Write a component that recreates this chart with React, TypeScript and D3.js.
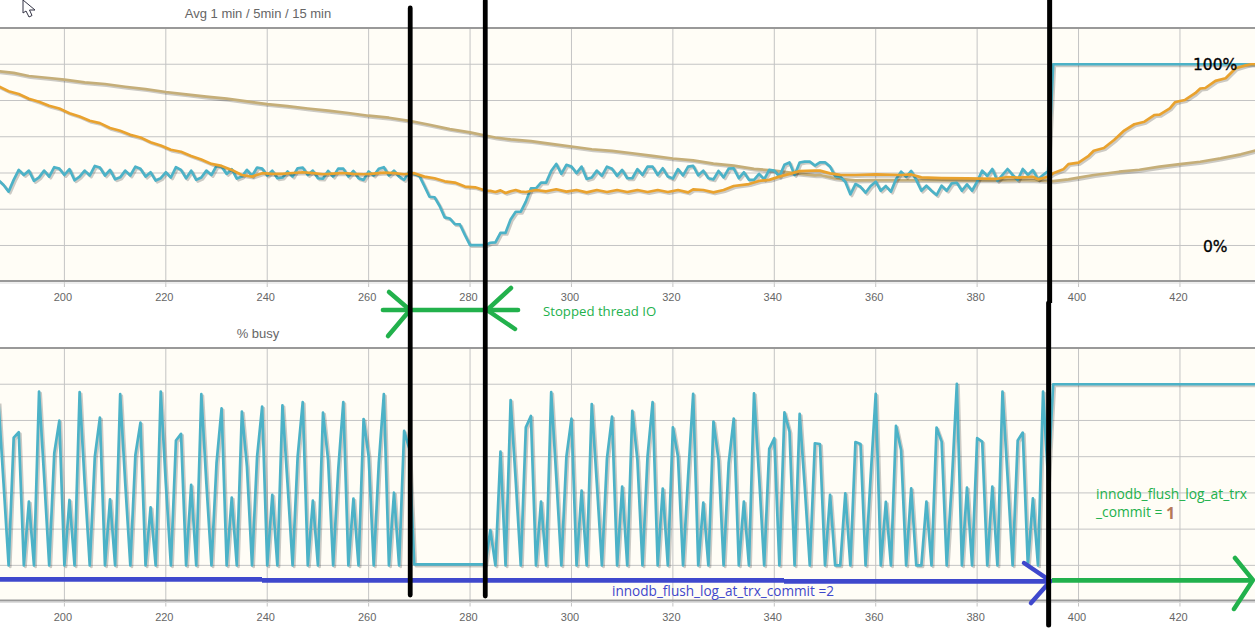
import React from 'react';
import * as d3 from 'd3';

const WIDTH = 1255;
const HEIGHT = 636;

const xTicks = [200, 220, 240, 260, 280, 300, 320, 340, 360, 380, 400, 420];
const yGrid = [0, 20, 40, 60, 80, 100];

// 1 min load, one value per tick starting at x = 187
const loadStart = 187;
const load1 = [
  36, 33.4, 29.7, 36.2, 41.7, 38.9, 41.3, 35.6, 37.6, 41.3, 38, 43.2, 42.4,
  38.9, 42.1, 36, 38, 41.3, 38.6, 43.9, 43, 38.6, 41.7, 36.5, 37.6, 41.3, 38.6, 43.5, 42.3, 38,
  40.4, 35.8, 37.1, 40.4, 37.5, 43.2, 41.7, 37.1, 41.3, 36.2, 37.5, 41.3, 38.9, 43.9, 43.5, 39.5,
  42.1, 36.9, 38, 41.7, 38.4, 43, 42.4, 38.6, 41.3, 37.1, 37.5, 40.8, 38, 42.6, 43, 38.9,
  41.3, 37.1, 36.9, 41.1, 38, 42.4, 42.4, 38, 41.1, 37.1, 36.2, 40.8, 38.6, 42.3, 43.2, 38.6,
  41.3, 38, 36.2, 40.8, 39.5, 38.4, 32.8, 26.9, 26.6, 21.8, 15.5, 14.9, 11.8, 11.6, 5.7, 0.2,
  0.2, 0.2, 0.2, 1.5, 1.7, 7, 7, 14.4, 18.6, 18.6, 24.2, 31.5, 31.5, 34.7, 34.7, 41.1,
  45, 39.5, 44.5, 43.5, 39.9, 43.5, 36.7, 37.5, 41.3, 38.4, 43.5, 42.3, 38.4, 41.7, 37.1, 37.1,
  42.1, 38.9, 43.5, 43.5, 38.9, 42.6, 38, 36.9, 42.1, 38.7, 43.5, 43.9, 38.7, 41.3, 37.1, 36.5,
  41.1, 37.6, 42.4, 42.6, 37.1, 40.4, 36.2, 36.2, 39.5, 36.5, 41.7, 41.3, 38, 44.5, 45.8, 38.9,
  45.8, 46.3, 46.3, 44.1, 45.9, 45.9, 43.5, 38.3, 37.9, 35.2, 28.2, 33.9, 32.4, 29.1, 32.8, 35.2,
  30.2, 32.8, 29.7, 36.5, 40.7, 37.9, 41.1, 36.1, 30.2, 33, 30.2, 27.8, 33, 30.2, 34.3, 34.6,
  30.2, 33.7, 30.2, 35.2, 41.3, 38.3, 42.2, 35.7, 38.9, 42.2, 38.9, 36.1, 42.2, 38.9, 41.6, 36.5,
  38.9, 41, 100,
];
const load1TailX = [435];
const load1TailY = [100];

const load5X = [
  187, 189, 191, 193, 195, 197, 199, 201, 203, 205, 207, 209, 211, 213, 215, 217, 219, 221, 223,
  225, 227, 229, 231, 233, 235, 237, 239, 241, 243, 245, 247, 249, 251, 253, 255, 257, 259, 261,
  263, 265, 267, 269, 271, 273, 275, 277, 279, 281, 283, 284, 285, 286, 287, 288, 289, 290, 291,
  293, 295, 297, 299, 301, 303, 305, 307, 309, 311, 313, 315, 317, 319, 321, 323, 324, 326, 328,
  330, 332, 335, 337, 339, 341, 343, 345, 348, 349, 351, 353, 356, 360, 365, 367, 369, 373, 378,
  384, 386, 388, 391, 392, 394, 395, 397, 398, 400, 402, 403, 405, 407, 409, 411, 413, 415, 416,
  418, 419, 420, 421, 423, 424, 425, 427, 429, 431, 433, 434, 435,
];
const load5 = [
  87.8, 85.1, 83.6, 81, 79.3, 77.1, 75.6, 73, 71.2, 68.8, 67.5, 64.8, 63.3, 61.1, 59.6, 57, 55.2,
  52.8, 51.7, 49.4, 47.4, 45, 43.9, 41.7, 38.9, 38, 39.9, 39.5, 39.5, 40, 40.4, 39.9, 39.3, 39.7,
  40, 39.5, 39.3, 39.7, 40.2, 39.9, 39.3, 39.9, 38, 37.1, 35.4, 34.7, 32.5, 32.1, 30.3, 30.1, 29.5,
  30.4, 29, 29.9, 30.6, 29.7, 29.5, 30.6, 29.9, 31, 29.7, 30.6, 29.3, 30.6, 29.5, 30.6, 29.5, 30.6,
  29.5, 30.6, 29.5, 30.6, 29.3, 31, 30.6, 29.3, 30.6, 32.8, 33.9, 35.6, 36.2, 38, 39.5, 41, 41.3,
  41.3, 39.8, 39, 38.9, 39.2, 38.9, 39.2, 37.6, 37.2, 37, 36.8, 37.8, 37.4, 37.9, 36.5, 37.9, 39.8,
  42, 44.9, 45.7, 49.5, 52.3, 53.8, 58.2, 63.4, 66.9, 68.3, 72, 72.2, 75.7, 79, 79.7, 80.3, 84,
  86.6, 86.9, 90.8, 92.3, 97.8, 99.4, 100, 100,
];

const load15X = [
  187, 190, 193, 197, 200, 204, 208, 212, 216, 220, 224, 228, 232, 236, 240, 244, 248, 252, 256,
  260, 264, 268, 272, 276, 280, 283, 285, 288, 292, 296, 300, 304, 308, 312, 316, 320, 324, 328,
  332, 336, 340, 344, 348, 349, 352, 356, 360, 365, 370, 375, 380, 385, 390, 395, 398, 400, 403,
  408, 412, 416, 420, 424, 428, 432, 435,
];
const load15 = [
  96.1, 95.2, 93.5, 92.4, 91.5, 90, 89.1, 87.6, 86.3, 84.7, 83.4, 82.1, 81, 79.5, 78, 76.9, 75.6,
  74.4, 73.1, 71.6, 70.5, 68.8, 66.6, 64.2, 62.4, 60.7, 59.6, 58.5, 57.6, 56.1, 54.6, 53.1, 52.2,
  50.9, 49.4, 48, 47, 45.2, 44.1, 42.3, 41.3, 39.9, 38.7, 38.9, 37, 35.9, 36.1, 36.1, 36.1, 35.9,
  36.1, 35.9, 36.1, 35.5, 36.5, 37.4, 38.9, 40.7, 41.8, 43.5, 44.9, 46.2, 48.1, 50.3, 52.5,
];

// % busy, one value per tick starting at x = 187
const busy = [
  90.2, 45.3, 0, 70.5, 73.5, 0, 35.2, 0, 95.9, 49, 0, 61.9, 79.9, 0, 36.1, 0, 95.6, 45.3, 0, 60,
  81.6, 0, 36.5, 0, 94.5, 45.3, 0, 61, 78.8, 0, 32, 0, 95.9, 45.3, 0, 68.9, 72.6, 0, 44.4, 0, 94.5,
  45.3, 0, 56.4, 86.7, 0, 37.4, 0, 84.9, 54.5, 0, 60, 87.7, 0, 38.9, 0, 88.4, 45.3, 0, 60, 90.1, 0,
  35.7, 0, 84.3, 58.2, 0, 52.7, 90.1, 0, 36.8, 0, 80.8, 60, 0, 56.4, 94.5, 0, 40.1, 0, 74.2, 64.6,
  0.5, 0.5, 0.5, 0.5, 0.5, 0.5, 0.5, 0.5, 0.5, 0.5, 0.5, 0.5, 0.5, 0.5, 0.5,
  19.5, 0, 62.8, 0, 91.3, 47.1, 0, 76.2, 82.5, 0, 35.2, 0, 95.6, 49, 0, 60, 81, 0, 41.3, 0, 89, 45.3,
  0, 59.1, 82.1, 0, 43.5, 0, 85.3, 58.2, 0, 60, 90.1, 0, 42.4, 0, 76.2, 60, 0, 49, 94.7, 0, 34.6, 0,
  79.4, 58.2, 0, 56.4, 81, 0, 35.2, 0, 95, 49, 0, 64.3, 70.2, 0, 84.5, 73.8, 0, 83.6, 43.5, 0, 67.4,
  67, 0, 38.9, 0, 0, 39.8, 0, 68.1, 67, 0, 49, 94.7, 0, 35, 0, 77, 63.7, 0, 42.5, 0, 0, 35.2, 0,
  76.1, 68.3, 0, 45.3, 100.2, 0, 42.9, 0, 70.2, 68.3, 0, 43.5, 0, 95.9, 49, 0, 68.9, 73.3, 0, 37, 0,
  95.9, 47.1, 100,
];
const busyTailX = [435];
const busyTailY = [100];

// where the hand drawn bars stand, on the x axis
const stopStart = 268.2;
const stopEnd = 283;
const settingChange = 394.3;

const x = d3.scaleLinear().domain([187.3, 434.8]).range([0, WIDTH]);
const yTop = d3.scaleLinear().domain([-19.6, 120]).range([281, 28]);
const yBottom = d3.scaleLinear().domain([-19.4, 120]).range([600.5, 348]);

const series = (start: number, vals: number[]) => vals.map((v, i) => [start + i, v] as [number, number]);
const pairs = (xs: number[], vals: number[]) => xs.map((d, i) => [d, vals[i]] as [number, number]);

const lineTop = d3.line<[number, number]>().x(d => x(d[0])).y(d => yTop(d[1]));
const lineBottom = d3.line<[number, number]>().x(d => x(d[0])).y(d => yBottom(d[1]));

const ARIAL = '"Liberation Sans", Arial, sans-serif';
const HAND = '"Open Sans", "Noto Sans", sans-serif';
const GREEN = '#22b14c';
const BLUE = '#3f48cc';

function Panel({ y, title, titleX }: { y: d3.ScaleLinear<number, number>; title: string; titleX: number }) {
  const [bottom, top] = y.range();
  return (
    <g>
      <rect x={0} y={top} width={WIDTH} height={bottom - top} fill="#fffdf6" />
      {yGrid.map(t => (
        <line key={t} x1={0} x2={WIDTH} y1={y(t)} y2={y(t)} stroke="#c4c4c4" />
      ))}
      {xTicks.map(t => (
        <g key={t}>
          <line x1={x(t)} x2={x(t)} y1={top} y2={bottom + 6} stroke="#c4c4c4" />
          <text x={x(t) - 1.5} y={bottom + 20} textAnchor="middle" fontSize={11} fontFamily={ARIAL} fill="#666">
            {t}
          </text>
        </g>
      ))}
      <line x1={0} x2={WIDTH} y1={top} y2={top} stroke="#999" strokeWidth={2} />
      <line x1={0} x2={WIDTH} y1={bottom} y2={bottom} stroke="#999" strokeWidth={2} />
      <line x1={0} x2={WIDTH} y1={bottom + 2} y2={bottom + 2} stroke="#ddd" />
      <text x={titleX} y={top - 10} textAnchor="middle" fontSize={13} fontFamily={ARIAL} fill="#666">
        {title}
      </text>
    </g>
  );
}

function Curve({ d, color }: { d: string | null; color: string }) {
  return (
    <g>
      <path d={d ?? ''} fill="none" stroke="#000" strokeOpacity={0.2} strokeWidth={2.8} transform="translate(1.6,1.6)" strokeLinejoin="round" />
      <path d={d ?? ''} fill="none" stroke={color} strokeWidth={2.7} strokeLinejoin="round" />
    </g>
  );
}

// tip plus the two loose ends of a hand drawn arrow head
function Arrow({ tip, upper, lower, color }: { tip: number[]; upper: number[]; lower: number[]; color: string }) {
  return (
    <path
      d={`M${upper[0]},${upper[1]}L${tip[0]},${tip[1]}L${lower[0]},${lower[1]}`}
      fill="none"
      stroke={color}
      strokeWidth={4.5}
      strokeLinecap="round"
    />
  );
}

export default function App() {
  const load1Line = lineTop(series(loadStart, load1).concat(pairs(load1TailX, load1TailY)));
  const load5Line = lineTop(pairs(load5X, load5));
  const load15Line = lineTop(pairs(load15X, load15));
  const busyLine = lineBottom(series(loadStart, busy).concat(pairs(busyTailX, busyTailY)));

  return (
    <svg
      width={WIDTH}
      height={HEIGHT}
      viewBox={`0 0 ${WIDTH} ${HEIGHT}`}
      style={{ position: 'absolute', left: 0, top: 0, display: 'block', background: '#fff' }}
    >
      <Panel y={yTop} title="Avg 1 min / 5min / 15 min" titleX={258} />
      <Panel y={yBottom} title="% busy" titleX={258} />

      <Curve d={load15Line} color="#c5ae78" />
      <Curve d={load1Line} color="#4cb2c7" />
      <Curve d={load5Line} color="#e9a22e" />
      <Curve d={busyLine} color="#4cb2c7" />

      {/* mouse pointer left in the screenshot */}
      <path d="M23,0L23,13L26,11L29,17L32,15.5L29.500,10L35,10Z" fill="#fff" stroke="#334" strokeWidth={1} />

      {/* hand drawn marks on top of the screenshot */}
      <line x1={0} x2={262} y1={579.3} y2={579.3} stroke={BLUE} strokeWidth={4.7} />
      <line x1={262} x2={784} y1={580.3} y2={580.3} stroke={BLUE} strokeWidth={4.7} />
      <line x1={784} x2={1050} y1={581.3} y2={581.3} stroke={BLUE} strokeWidth={4.7} />
      <Arrow tip={[1050.5, 581]} upper={[1024, 563]} lower={[1031, 603]} color={BLUE} />
      <line x1={1052} x2={1252} y1={580.3} y2={580.3} stroke={GREEN} strokeWidth={4.7} />
      <Arrow tip={[1253, 580]} upper={[1235, 558]} lower={[1234, 609]} color={GREEN} />

      <line x1={383} x2={518} y1={310} y2={310} stroke={GREEN} strokeWidth={4.7} strokeLinecap="round" />
      <Arrow tip={[410, 310]} upper={[389, 292]} lower={[388, 336]} color={GREEN} />
      <Arrow tip={[487, 310]} upper={[511, 288]} lower={[515, 329]} color={GREEN} />

      <line x1={x(stopStart)} x2={x(stopStart)} y1={8} y2={595} stroke="#000" strokeWidth={4.8} strokeLinecap="round" />
      <line x1={x(stopEnd)} x2={x(stopEnd)} y1={1} y2={596} stroke="#000" strokeWidth={4.8} strokeLinecap="round" />
      <line x1={x(settingChange)} x2={x(settingChange)} y1={0} y2={303} stroke="#000" strokeWidth={5} />
      <line x1={x(settingChange) - 1} x2={x(settingChange) - 1} y1={303} y2={625} stroke="#000" strokeWidth={5} strokeLinecap="round" />

      <text x={543} y={316} fontSize={13.2} fontFamily={HAND} fill={GREEN}>Stopped thread IO</text>
      <text x={612} y={596} fontSize={13.6} fontFamily={HAND} fill={BLUE}>innodb_flush_log_at_trx_commit =2</text>
      <text x={1096} y={499} fontSize={13.8} fontFamily={HAND} fill={GREEN}>innodb_flush_log_at_trx</text>
      <text x={1096} y={517} fontSize={13.8} fontFamily={HAND} fill={GREEN}>_commit =</text>
      <text x={1166} y={519} fontSize={16} fontWeight="bold" fontFamily={HAND} fill="#b5785a">1</text>
      <text x={1193} y={70} fontSize={15.5} fontFamily={'"DejaVu Sans", sans-serif'} fill="#000" stroke="#000" strokeWidth={0.3}>100%</text>
      <text x={1203} y={252} fontSize={15.5} fontFamily={'"DejaVu Sans", sans-serif'} fill="#000" stroke="#000" strokeWidth={0.3}>0%</text>
    </svg>
  );
}
